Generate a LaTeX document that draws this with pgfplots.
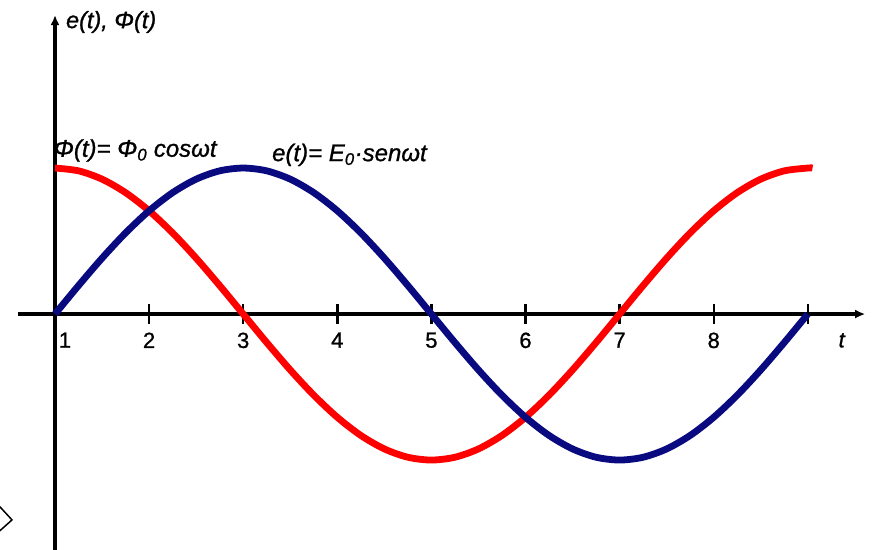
\documentclass[border=0pt]{standalone}
\usepackage{fontspec}
\setmainfont{Liberation Sans}[FakeBold=0.9]
\newfontfamily\labelfont{Liberation Sans Italic}[FakeBold=1.0]
\usepackage{pgfplots}
\pgfplotsset{compat=1.18}
\usetikzlibrary{arrows.meta}

\definecolor{fluxred}{RGB}{255,0,0}
\definecolor{emfblue}{RGB}{10,10,128}

\begin{document}
\begin{tikzpicture}
\begin{axis}[
  % axes cross at t = 1, so the plot runs on u = t - 1
  x=94.1pt, y=146pt,
  xmin=-0.393, xmax=8.61,
  ymin=-1.75, ymax=2.048,
  x filter/.expression={x-1},
  axis lines=middle,
  axis line style={line width=3.2pt, black, -{Latex[length=10pt,width=9pt]}},
  xtick={0,1,2,3,4,5,6,7,8},
  xticklabels={\hspace{20pt}1,2,3,4,5,6,7,8,{}},
  hide obscured x ticks=false,
  ytick=\empty,
  major tick length=20pt,
  tick align=center,
  tick style={line width=2.4pt, black},
  xticklabel style={font=\fontsize{22}{24}\selectfont, anchor=north, yshift=-5pt},
  clip=false,
]
% magnetic flux, cosine
\addplot[fluxred, line width=6.8pt, smooth] coordinates {
 (1.00,1) (1.25,0.98079) (1.50,0.92388) (1.75,0.83147) (2.00,0.70711)
 (2.25,0.55557) (2.50,0.38268) (2.75,0.19509) (3.00,0) (3.25,-0.19509)
 (3.50,-0.38268) (3.75,-0.55557) (4.00,-0.70711) (4.25,-0.83147) (4.50,-0.92388)
 (4.75,-0.98079) (5.00,-1) (5.25,-0.98079) (5.50,-0.92388) (5.75,-0.83147)
 (6.00,-0.70711) (6.25,-0.55557) (6.50,-0.38268) (6.75,-0.19509) (7.00,0)
 (7.25,0.19509) (7.50,0.38268) (7.75,0.55557) (8.00,0.70711) (8.25,0.83147)
 (8.50,0.92388) (8.75,0.98079) (9.00,1) (9.05,1)
};
% induced emf, sine
\addplot[emfblue, line width=6.8pt, smooth] coordinates {
 (1.00,0) (1.25,0.19509) (1.50,0.38268) (1.75,0.55557) (2.00,0.70711)
 (2.25,0.83147) (2.50,0.92388) (2.75,0.98079) (3.00,1) (3.25,0.98079)
 (3.50,0.92388) (3.75,0.83147) (4.00,0.70711) (4.25,0.55557) (4.50,0.38268)
 (4.75,0.19509) (5.00,0) (5.25,-0.19509) (5.50,-0.38268) (5.75,-0.55557)
 (6.00,-0.70711) (6.25,-0.83147) (6.50,-0.92388) (6.75,-0.98079) (7.00,-1)
 (7.25,-0.98079) (7.50,-0.92388) (7.75,-0.83147) (8.00,-0.70711) (8.25,-0.55557)
 (8.50,-0.38268) (8.75,-0.19509) (9.00,0)
};
% labels
\node[anchor=west, font=\fontsize{23.5}{25}\labelfont] at (axis cs:0.08,2.0) {e(t), Φ(t)};
\node[font=\fontsize{22}{24}\labelfont] at (axis cs:8.36,-0.18) {t};
\node[anchor=west, font=\fontsize{24}{26}\labelfont] at (axis cs:-0.05,1.12) {Φ(t)= Φ\textsubscript{0} cosωt};
\node[anchor=west, font=\fontsize{24}{26}\labelfont] at (axis cs:2.27,1.09) {e(t)= E\textsubscript{0}·senωt};
% frame corner at the lower left
\draw[line width=1.5pt, black] (axis cs:-0.80,-1.17) -- (axis cs:-0.457,-1.41) -- (axis cs:-0.70,-1.55);
\coordinate (bl) at (axis cs:-0.5845,-1.6096);
\coordinate (tr) at (axis cs:8.7035,2.151);
\end{axis}
\pgfresetboundingbox
\path[use as bounding box] (bl) rectangle (tr);
\end{tikzpicture}
\end{document}
